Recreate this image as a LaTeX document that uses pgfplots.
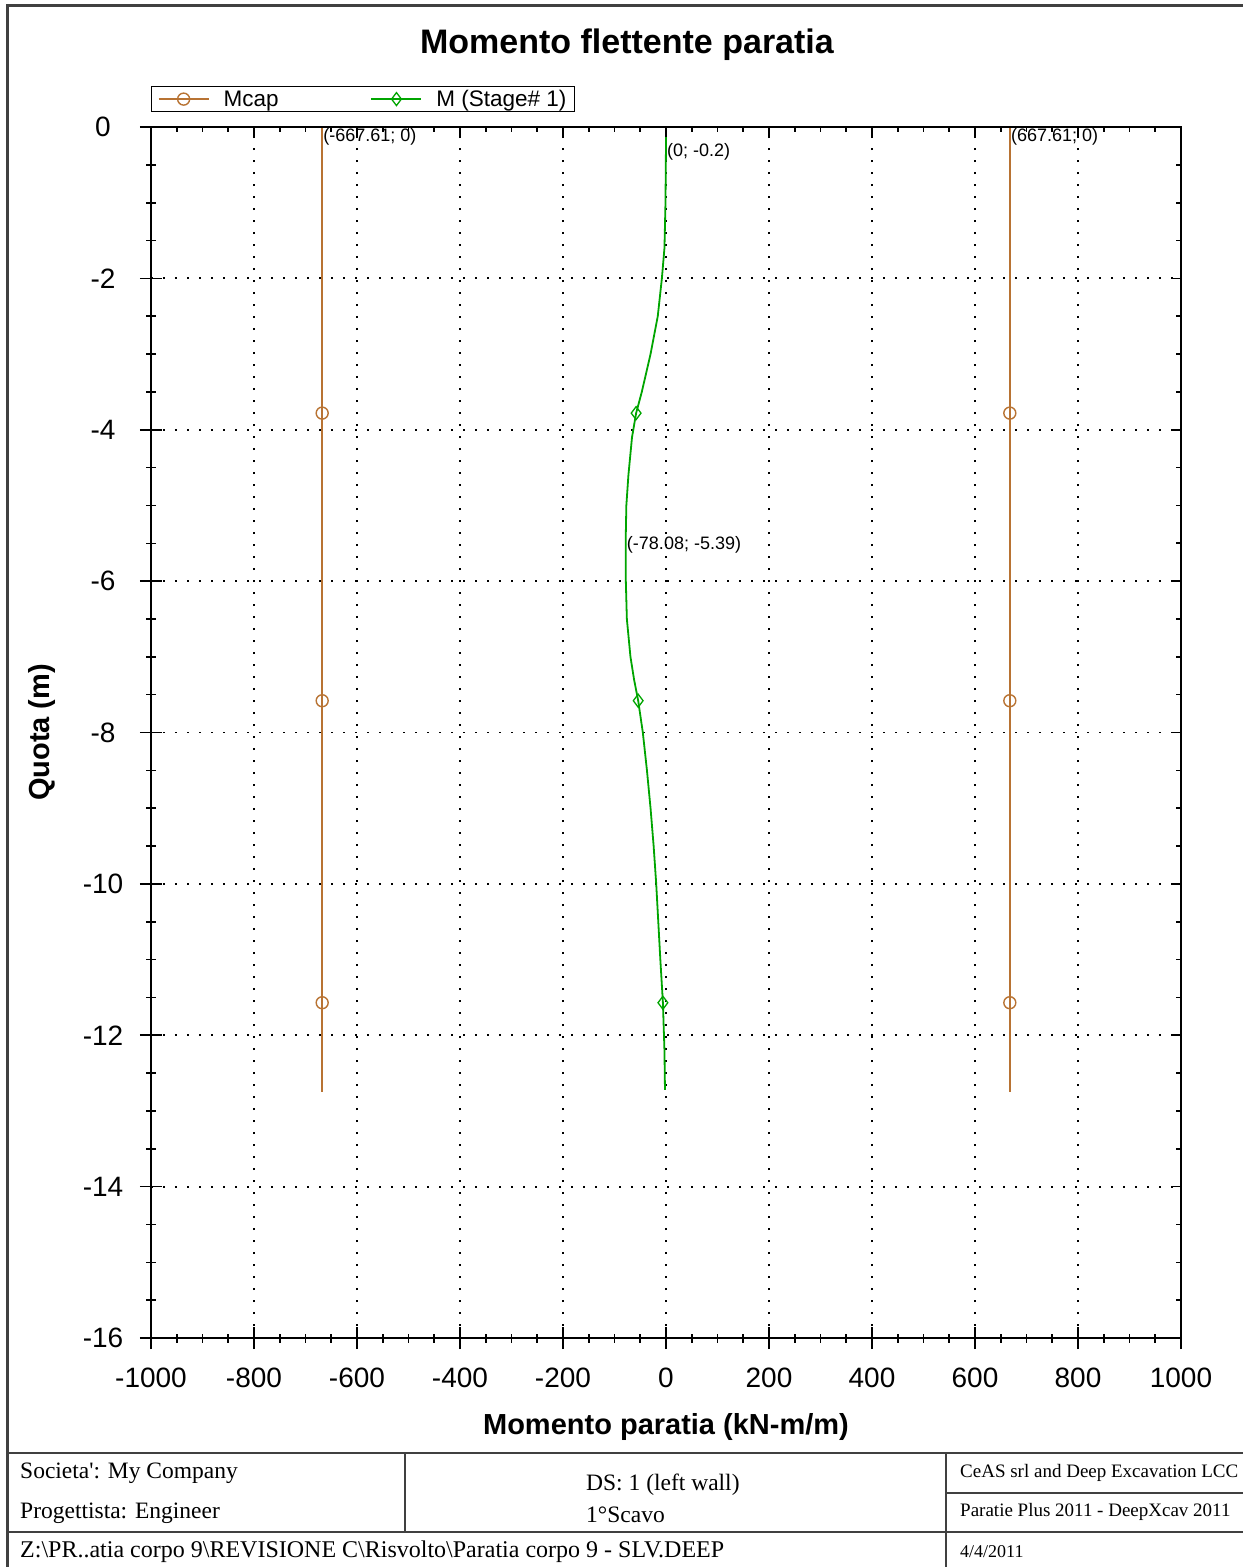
\documentclass[border=0pt]{standalone}
\usepackage{fontspec}
\setmainfont{Liberation Serif}
\newfontfamily\arial{Liberation Sans}
\usepackage{pgfplots}
\pgfplotsset{compat=1.18}
\definecolor{mcap}{RGB}{184,115,51}
\definecolor{mgreen}{RGB}{0,165,0}
\definecolor{framec}{RGB}{64,64,64}
\begin{document}
\begin{tikzpicture}
\useasboundingbox (0pt,0pt) rectangle (1243pt,-1567pt);
% outer frame and footer table
\draw[framec, line width=3pt] (7pt,-1567pt) -- (7pt,-5pt) -- (1243pt,-5pt);
\draw[framec, line width=2pt] (7pt,-1453pt) -- (1243pt,-1453pt);
\draw[framec, line width=2pt] (7pt,-1532pt) -- (1243pt,-1532pt);
\draw[framec, line width=2pt] (946pt,-1493pt) -- (1243pt,-1493pt);
\draw[framec, line width=2pt] (405pt,-1453pt) -- (405pt,-1532pt);
\draw[framec, line width=2pt] (946pt,-1453pt) -- (946pt,-1567pt);
\node[anchor=west, inner sep=0pt, font=\fontsize{23.5}{26}\selectfont] at (20pt,-1473pt) {Societa\textquotesingle: My Company};
\node[anchor=west, inner sep=0pt, font=\fontsize{23.5}{26}\selectfont] at (20pt,-1513pt) {Progettista: Engineer};
\node[anchor=west, inner sep=0pt, font=\fontsize{23.5}{26}\selectfont] at (586pt,-1485pt) {DS: 1 (left wall)};
\node[anchor=west, inner sep=0pt, font=\fontsize{23.5}{26}\selectfont] at (586pt,-1515pt) {1°Scavo};
\node[anchor=west, inner sep=0pt, font=\fontsize{19}{21}\selectfont] at (960pt,-1473pt) {CeAS srl and Deep Excavation LCC};
\node[anchor=west, inner sep=0pt, font=\fontsize{19}{21}\selectfont] at (960pt,-1512pt) {Paratie Plus 2011 - DeepXcav 2011};
\node[anchor=west, inner sep=0pt, font=\fontsize{24}{26}\selectfont] at (20pt,-1552pt) {Z:\textbackslash PR..atia corpo 9\textbackslash REVISIONE C\textbackslash Risvolto\textbackslash Paratia corpo 9 - SLV.DEEP};
\node[anchor=west, inner sep=0pt, font=\fontsize{18}{20}\selectfont] at (960pt,-1552pt) {4/4/2011};
% title
\node[font=\arial\bfseries\fontsize{34}{37}\selectfont] at (627pt,-45pt) {Momento flettente paratia};

\begin{axis}[
  scale only axis, width=1030pt, height=1211pt,
  at={(151pt,-1338pt)}, anchor=south west,
  xmin=-1000, xmax=1000, ymin=-16, ymax=0,
  xtick distance=200, ytick distance=2,
  minor x tick num=3, minor y tick num=3,
  xtick pos=left, ytick pos=left,
  tick align=center,
  major tick length=22pt, minor tick length=9pt,
  every tick/.style={black, line width=1.6pt},
  axis line style={black, line width=1.8pt},
  grid=major,
  major grid style={black, line width=1.8pt, dash pattern=on 1.8pt off 10.2pt},
  /pgf/number format/assume math mode=true,
  /pgf/number format/1000 sep={},
  tick label style={font=\arial\fontsize{28}{30}\selectfont},
  xticklabel style={anchor=center, yshift=-29pt},
  yticklabel style={anchor=center, xshift=-37pt},
  xlabel={Momento paratia (kN-m/m)},
  ylabel={Quota (m)},
  xlabel style={font=\arial\bfseries\fontsize{29}{31}\selectfont, at={(axis description cs:0.5,-0.0735)}, anchor=center},
  ylabel style={font=\arial\bfseries\fontsize{29}{31}\selectfont, at={(axis description cs:-0.1058,0.5)}, anchor=center},
  clip=false,
  legend columns=2,
  legend cell align=left,
  legend image code/.code={\path (0pt,0pt) (62pt,0pt);\draw[mark indices={2}] plot coordinates {(0pt,0pt) (25pt,0pt) (50pt,0pt)};},
  legend style={at={(axis description cs:0,1.0339)}, anchor=north west, draw=black, line width=1.5pt,
    font=\arial\fontsize{22.5}{23}\selectfont, inner ysep=1.5pt, inner xsep=6pt,
    /tikz/every even column/.append style={column sep=90pt}},
]
\addplot[mcap, line width=1.8pt, mark=o, mark size=6pt, mark indices={2,3,4}, mark options={solid, line width=1.4pt}]
  coordinates {(-667.61,0) (-667.61,-3.78) (-667.61,-7.58) (-667.61,-11.57) (-667.61,-12.75)};
\addlegendentry{Mcap}
\addplot[mgreen, line width=1.8pt, mark=diamond, mark size=6.5pt, mark indices={9,18,26}, mark options={solid, line width=1.3pt}]
  coordinates {(0,0) (0,-0.2) (-1,-1) (-3,-1.6) (-8,-2) (-16,-2.5) (-30,-3) (-47,-3.5) (-58,-3.78)
    (-66,-4.1) (-73,-4.6) (-77,-5.0) (-78.08,-5.39) (-78,-6.0) (-76,-6.5) (-69,-7.0) (-62,-7.3)
    (-54,-7.58) (-45,-8.0) (-37,-8.5) (-30,-9.0) (-24,-9.5) (-19,-10) (-15,-10.5) (-11,-11)
    (-6,-11.57) (-3,-12.2) (-2,-12.72)};
\addlegendentry{M (Stage\# 1)}
\addplot[mcap, forget plot, line width=1.8pt, mark=o, mark size=6pt, mark indices={2,3,4}, mark options={solid, line width=1.4pt}]
  coordinates {(667.61,0) (667.61,-3.78) (667.61,-7.58) (667.61,-11.57) (667.61,-12.75)};
\node[anchor=north west, inner sep=1pt, font=\arial\fontsize{18}{19}\selectfont] at (axis cs:-667.61,0) {(-667.61; 0)};
\node[anchor=north west, inner sep=1pt, font=\arial\fontsize{18}{19}\selectfont] at (axis cs:0,-0.2) {(0; -0.2)};
\node[anchor=north west, inner sep=1pt, font=\arial\fontsize{18}{19}\selectfont] at (axis cs:-78.08,-5.39) {(-78.08; -5.39)};
\node[anchor=north west, inner sep=1pt, font=\arial\fontsize{18}{19}\selectfont] at (axis cs:667.61,0) {(667.61; 0)};
\end{axis}
\begin{axis}[
  scale only axis, width=1030pt, height=1211pt,
  at={(151pt,-1338pt)}, anchor=south west,
  xmin=-1000, xmax=1000, ymin=-16, ymax=0,
  xtick distance=200, ytick distance=2,
  minor x tick num=3, minor y tick num=3,
  xtick pos=right, ytick pos=right,
  tick align=inside,
  major tick length=10pt, minor tick length=5pt,
  every tick/.style={black, line width=1.6pt},
  axis line style={black, line width=1.8pt},
  xticklabels={}, yticklabels={},
]
\end{axis}
\end{tikzpicture}
\end{document}
